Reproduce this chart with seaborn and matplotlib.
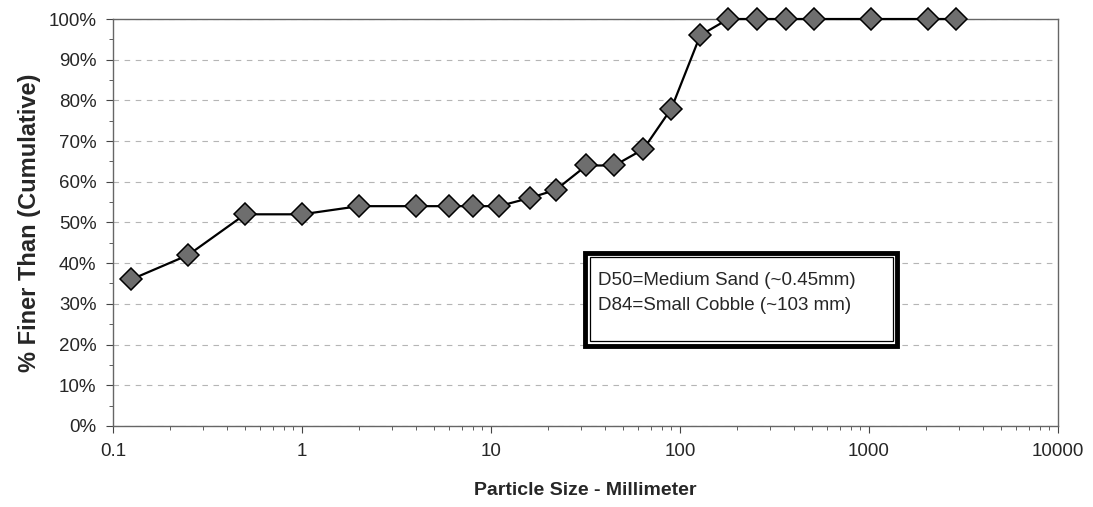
import matplotlib
matplotlib.use("Agg")
import matplotlib.pyplot as plt
import matplotlib.ticker as mticker
from matplotlib.patches import Rectangle
import numpy as np
import pandas as pd
import seaborn as sns

# Sieve sizes (mm) and cumulative percent finer
particle_size = [0.125, 0.25, 0.5, 1, 2, 4, 6, 8, 11, 16, 22, 32, 45, 64, 90,
                 128, 180, 256, 362, 512, 1024, 2048, 2900]
pct_finer = [36, 42, 52, 52, 54, 54, 54, 54, 54, 56, 58, 64, 64, 68, 78,
             96, 100, 100, 100, 100, 100, 100, 100]

x_ticks = [0.1, 1, 10, 100, 1000, 10000]
x_tick_labels = ["0.1", "1", "10", "100", "1000", "10000"]
y_ticks = list(range(0, 101, 10))

note_lines = ["D50=Medium Sand (~0.45mm)", "D84=Small Cobble (~103 mm)"]

df = pd.DataFrame({"size": particle_size, "finer": pct_finer})

sns.set_style("white")
plt.rcParams["font.family"] = ["Liberation Sans", "DejaVu Sans"]

fig = plt.figure(figsize=(10.93, 5.07), dpi=100)
ax = fig.add_axes([0.1034, 0.16, 0.8646, 0.8025])

sns.lineplot(data=df, x="size", y="finer", ax=ax, color="black", linewidth=1.6,
             marker="D", markersize=11, markerfacecolor="#6e6e6e",
             markeredgecolor="black", markeredgewidth=1.1, clip_on=False,
             zorder=7)

ax.set_xscale("log")
ax.set_xlim(0.1, 10000)
ax.set_ylim(0, 100)

ax.set_xticks(x_ticks)
ax.set_xticklabels(x_tick_labels)
ax.xaxis.set_minor_locator(mticker.LogLocator(base=10, subs=np.arange(2, 10)))
ax.xaxis.set_minor_formatter(mticker.NullFormatter())
ax.set_yticks(y_ticks)
ax.set_yticklabels([f"{v}%" for v in y_ticks])
ax.yaxis.set_minor_locator(mticker.MultipleLocator(5))

ax.tick_params(axis="both", which="major", direction="out", length=5, width=0.8,
               color="#444444", labelsize=13.5, bottom=True, left=True, pad=7)
ax.tick_params(axis="both", which="minor", direction="out", length=3, width=0.6,
               color="#444444", bottom=True, left=True)

ax.yaxis.grid(True, which="major", linestyle=(0, (5, 5)), color="#b5b5b5", linewidth=0.8)
ax.xaxis.grid(False)
ax.set_axisbelow(True)
for sp in ax.spines.values():
    sp.set_color("#666666")
    sp.set_linewidth(1.0)

ax.set_xlabel("Particle Size - Millimeter", fontsize=14, fontweight="bold", labelpad=16)
ax.set_ylabel("% Finer Than (Cumulative)", fontsize=17, fontweight="bold", labelpad=5)

# Double-bordered annotation box
outer = Rectangle((0.4995, 0.197), 0.3305, 0.228, transform=ax.transAxes,
                  facecolor="white", edgecolor="black", linewidth=3.5, zorder=4)
inner = Rectangle((0.5045, 0.208), 0.3205, 0.206, transform=ax.transAxes,
                  facecolor="none", edgecolor="black", linewidth=0.9, zorder=5)
ax.add_patch(outer)
ax.add_patch(inner)
ax.text(0.513, 0.357, note_lines[0], transform=ax.transAxes, fontsize=13.5,
        va="center", ha="left", zorder=6)
ax.text(0.513, 0.296, note_lines[1], transform=ax.transAxes, fontsize=13.5,
        va="center", ha="left", zorder=6)

fig.savefig("out.png", dpi=100)
